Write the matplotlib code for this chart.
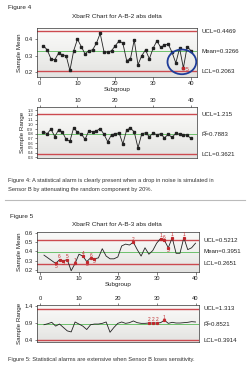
import numpy as np
import matplotlib
matplotlib.use("Agg")
import matplotlib.pyplot as plt
from matplotlib.colors import LinearSegmentedColormap
from matplotlib.patches import Ellipse
import matplotlib.transforms as mtransforms

plt.rcParams['font.family'] = ['Liberation Sans', 'DejaVu Sans']

subgroups = list(range(1, 41))

# Figure 4 data
f4_title = "XbarR Chart for A-B-2 abs delta"
f4_mean = [0.36, 0.335, 0.28, 0.275, 0.315, 0.305, 0.30, 0.21, 0.33, 0.40,
           0.355, 0.31, 0.33, 0.335, 0.375, 0.435, 0.325, 0.32, 0.33, 0.36,
           0.39, 0.375, 0.27, 0.28, 0.395, 0.245, 0.30, 0.335, 0.28, 0.345,
           0.39, 0.35, 0.365, 0.37, 0.32, 0.255, 0.345, 0.225, 0.355, 0.33]
f4_mean_limits = {"UCL": 0.4469, "Mean": 0.3266, "LCL": 0.2063}
f4_mean_alarms = [(38, "5")]
f4_range = [0.84, 0.80, 0.90, 0.74, 0.88, 0.84, 0.68, 0.64, 0.93, 0.83,
            0.80, 0.68, 0.86, 0.84, 0.86, 0.91, 0.79, 0.63, 0.78, 0.80,
            0.82, 0.58, 0.88, 0.92, 0.84, 0.50, 0.80, 0.82, 0.74, 0.81,
            0.78, 0.80, 0.71, 0.79, 0.72, 0.81, 0.79, 0.78, 0.77, 0.70]
f4_range_limits = {"UCL": 1.215, "Rbar": 0.7883, "LCL": 0.3621}
f4_caption = ["Figure 4: A statistical alarm is clearly present when a drop in noise is simulated in",
              "Sensor B by attenuating the random component by 20%."]

# Figure 5 data
f5_title = "XbarR Chart for A-B-3 abs delta"
f5_mean = [0.36, 0.33, 0.30, 0.27, 0.31, 0.30, 0.31, 0.19, 0.27, 0.37,
           0.35, 0.29, 0.33, 0.32, 0.33, 0.43, 0.35, 0.32, 0.32, 0.34,
           0.46, 0.48, 0.47, 0.50, 0.42, 0.35, 0.44, 0.37, 0.41, 0.49,
           0.54, 0.52, 0.44, 0.55, 0.38, 0.38, 0.55, 0.42, 0.44, 0.49]
f5_mean_limits = {"UCL": 0.5212, "Mean": 0.3951, "LCL": 0.2651}
f5_mean_alarms = [(4, "5", "below"), (5, "6", "above"), (6, "5", "below"), (7, "5", "above"),
                  (9, "1", "above"), (11, "4", "above"), (12, "5", "below"), (13, "6", "above"),
                  (14, "5", "below"), (24, "2", "above"), (31, "1", "above"), (32, "6", "above"),
                  (33, "5", "below"), (34, "1", "above"), (37, "1", "above")]
f5_range = [0.84, 0.87, 0.91, 0.80, 0.86, 0.76, 0.66, 0.63, 0.92, 0.86,
            0.80, 0.70, 0.84, 0.86, 0.86, 0.88, 0.92, 0.62, 0.76, 0.88,
            0.92, 0.88, 0.90, 0.95, 0.90, 0.88, 0.88, 0.89, 0.89, 0.89,
            0.90, 0.97, 0.88, 0.91, 0.89, 0.89, 0.90, 0.91, 0.93, 0.92]
f5_range_limits = {"UCL": 1.313, "Rbar": 0.8521, "LCL": 0.3914}
f5_range_alarms = [(28, "2"), (29, "2"), (30, "2"), (32, "1")]
f5_caption = ["Figure 5: Statistical alarms are extensive when Sensor B loses sensitivity."]

W, H = 250, 376
fig = plt.figure(figsize=(W / 100, H / 100), dpi=100)
fig.patch.set_facecolor("white")

RED = "#cc4a50"
GREEN = "#6cc06c"
ALARM = "#c0282d"
bg_cmap = LinearSegmentedColormap.from_list("bg", ["#fbfbfa", "#f0f0ee", "#e3e3e1"])


def px_axes(left, top, right, bottom):
    return fig.add_axes([left / W, 1 - bottom / H, (right - left) / W, (bottom - top) / H])


def style_axes(ax, ylim, yticks, ylabels, top_ticks, xlim=(-0.7, 41.6)):
    ax.set_xlim(*xlim)
    ax.set_ylim(*ylim)
    ax.imshow(np.linspace(0, 1, 64)[:, None], extent=[0, 1, 0, 1], transform=ax.transAxes,
              aspect="auto", cmap=bg_cmap, zorder=0)
    ax.set_xticks([0, 10, 20, 30, 40])
    ax.set_yticks(yticks)
    ax.set_yticklabels(ylabels)
    ax.tick_params(axis="both", labelsize=4.2, length=1.8, width=0.4, pad=1, colors="#222222")
    if top_ticks:
        ax.xaxis.tick_top()
    for s in ax.spines.values():
        s.set_linewidth(0.5)
        s.set_color("#333333")


def limit_lines(ax, limits, center_key, center_label):
    trans = mtransforms.blended_transform_factory(ax.transAxes, ax.transData)
    ax.axhline(limits["UCL"], color=RED, lw=1.0, zorder=2)
    ax.axhline(limits["LCL"], color=RED, lw=1.0, zorder=2)
    ax.axhline(limits[center_key], color=GREEN, lw=0.7, zorder=2)
    ax.text(1.03, limits["UCL"], "UCL=%s" % limits["UCL"], transform=trans, fontsize=4.4,
            va="center", ha="left", color="#222222", clip_on=False)
    ax.text(1.03, limits[center_key], "%s=%s" % (center_label, limits[center_key]), transform=trans,
            fontsize=4.4, va="center", ha="left", color="#222222", clip_on=False)
    ax.text(1.03, limits["LCL"], "LCL=%s" % limits["LCL"], transform=trans, fontsize=4.4,
            va="center", ha="left", color="#222222", clip_on=False)


# ---------- Figure 4 ----------
fig.text(8 / W, 1 - 7 / H, "Figure 4", fontsize=4.6, va="center", ha="left", color="#222222")
fig.text(117 / W, 1 - 17 / H, f4_title, fontsize=4.6, va="center", ha="center", color="#222222")

ax1 = px_axes(37, 28, 197, 77)
style_axes(ax1, (0.17, 0.468), [0.2, 0.3, 0.4], ["0.2", "0.3", "0.4"], False)
limit_lines(ax1, f4_mean_limits, "Mean", "Mean")
ax1.plot(subgroups, f4_mean, color="#222222", lw=0.6, marker="s", ms=1.5, zorder=3)
for k, lab in f4_mean_alarms:
    ax1.plot([k], [f4_mean[k - 1]], "s", color=ALARM, ms=1.8, zorder=4)
    ax1.text(k + 0.7, f4_mean[k - 1] - 0.012, lab, color=ALARM, fontsize=3.6,
             ha="left", va="center", zorder=4)
ax1.add_patch(Ellipse((37.6, 0.262), 7.6, 0.15, fill=False, ec="#1f3d99", lw=1.3, zorder=5))
ax1.set_ylabel("Sample Mean", fontsize=4.5, labelpad=2, color="#222222")
ax1.set_xlabel("Subgroup", fontsize=4.5, labelpad=1, color="#222222")

ax2 = px_axes(37, 107, 197, 158)
r_ticks = [round(0.3 + 0.1 * i, 1) for i in range(11)]
style_axes(ax2, (0.283, 1.37), r_ticks, [("%.1f" % t) for t in r_ticks], True)
ax2.tick_params(axis="y", labelsize=3.0)
limit_lines(ax2, f4_range_limits, "Rbar", "R\u0305")
ax2.plot(subgroups, f4_range, color="#222222", lw=0.6, marker="s", ms=1.5, zorder=3)
ax2.set_ylabel("Sample Range", fontsize=4.5, labelpad=2, color="#222222")

for i, line in enumerate(f4_caption):
    fig.text(8 / W, 1 - (180 + 9.5 * i) / H, line, fontsize=4.15, va="center", ha="left",
             color="#333333")

fig.add_artist(plt.Line2D([5 / W, 245 / W], [1 - 199.5 / H, 1 - 199.5 / H],
                          color="#bbbbbb", lw=0.8))

# ---------- Figure 5 ----------
fig.text(10 / W, 1 - 216 / H, "Figure 5", fontsize=4.6, va="center", ha="left", color="#222222")
fig.text(117 / W, 1 - 224 / H, f5_title, fontsize=4.6, va="center", ha="center", color="#222222")

ax3 = px_axes(37, 231.5, 199, 271.7)
style_axes(ax3, (0.18, 0.617), [0.2, 0.3, 0.4, 0.5, 0.6], ["0.2", "0.3", "0.4", "0.5", "0.6"],
           False, xlim=(-0.8, 40.9))
limit_lines(ax3, f5_mean_limits, "Mean", "Mean")
ax3.plot(subgroups, f5_mean, color="#222222", lw=0.6, zorder=3)
for k, lab, pos in f5_mean_alarms:
    v = f5_mean[k - 1]
    ax3.plot([k], [v], "s", color=ALARM, ms=1.3, zorder=4)
    dy = 0.03 if pos == "above" else -0.03
    ax3.text(k, v + dy, lab, color=ALARM, fontsize=3.4, ha="center", va="center", zorder=4)
ax3.set_ylabel("Sample Mean", fontsize=4.5, labelpad=2, color="#222222")
ax3.set_xlabel("Subgroup", fontsize=4.5, labelpad=1, color="#222222")

ax4 = px_axes(37, 304.5, 199, 341.7)
style_axes(ax4, (0.345, 1.43), [0.4, 0.9, 1.4], ["0.4", "0.9", "1.4"], True, xlim=(-0.8, 40.9))
limit_lines(ax4, f5_range_limits, "Rbar", "R\u0305")
ax4.plot(subgroups, f5_range, color="#222222", lw=0.6, zorder=3)
for k, lab in f5_range_alarms:
    v = f5_range[k - 1]
    ax4.plot([k], [v], "s", color=ALARM, ms=1.3, zorder=4)
    ax4.text(k, v + 0.09, lab, color=ALARM, fontsize=3.4, ha="center", va="center", zorder=4)
ax4.set_ylabel("Sample Range", fontsize=4.5, labelpad=2, color="#222222")

for i, line in enumerate(f5_caption):
    fig.text(8 / W, 1 - (360 + 9.5 * i) / H, line, fontsize=4.15, va="center", ha="left",
             color="#333333")

fig.savefig("out.png", dpi=100, facecolor="white")
